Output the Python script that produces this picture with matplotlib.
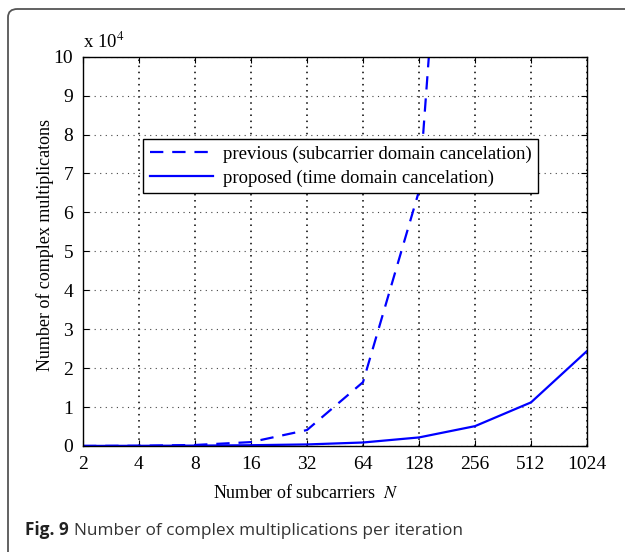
import matplotlib
matplotlib.use("Agg")
import matplotlib.pyplot as plt
from matplotlib.patches import FancyBboxPatch

plt.rcParams["mathtext.fontset"] = "stix"

# Data (values in units of 1e4)
n_labels = ["2", "4", "8", "16", "32", "64", "128", "256", "512", "1024"]
previous = [0.0016, 0.0064, 0.026, 0.10, 0.41, 1.64, 6.55, 26.2]
proposed = [0.002, 0.005, 0.01, 0.02, 0.04, 0.09, 0.22, 0.51, 1.12, 2.44]
y_ticks = [0, 1, 2, 3, 4, 5, 6, 7, 8, 9, 10]

W, H = 625, 552
fig = plt.figure(figsize=(W / 100, H / 100), dpi=100)

serif = ["Liberation Serif", "DejaVu Serif"]

# outer rounded frame (cropped on right/bottom)
frame = FancyBboxPatch((8 / W, -0.2), 1.3, (H - 9) / H + 0.2,
                       boxstyle="round,pad=0,rounding_size=0.015",
                       transform=fig.transFigure, fill=False,
                       edgecolor="#555555", linewidth=1.3, clip_on=False)
fig.patches.append(frame)

AX_L, AX_R, AX_T, AX_B = 83, 587, 56.7, 446
ax = fig.add_axes([AX_L / W, 1 - AX_B / H, (AX_R - AX_L) / W, (AX_B - AX_T) / H])
x = list(range(len(n_labels)))

ax.plot(x[:len(previous)], previous, color="#0000ff", lw=1.6,
        dashes=(6, 4), label="previous (subcarrier domain cancelation)")
ax.plot(x, proposed, color="#0000ff", lw=1.6,
        label="proposed (time domain cancelation)")

ax.set_xlim(0, len(n_labels) - 1)
ax.set_ylim(0, 10)
ax.set_xticks(x)
ax.set_xticklabels(n_labels, fontfamily=serif, fontsize=14)
ax.set_yticks(y_ticks)
ax.set_yticklabels([str(v) for v in y_ticks], fontfamily=serif, fontsize=14)
ax.tick_params(direction="in", top=True, right=True, length=4, width=0.8,
               pad=7, colors="black")
for s in ax.spines.values():
    s.set_linewidth(1.0)
    s.set_color("black")

ax.xaxis.grid(True, linestyle=(0, (1, 3)), color="black", lw=1.1)
ax.yaxis.grid(True, linestyle=(0, (1, 4)), color="#444444", lw=0.8)
ax.set_axisbelow(True)

aw, ah = AX_R - AX_L, AX_B - AX_T
ax.set_xlabel("Number of subcarriers  $N$", fontfamily=serif, fontsize=13)
ax.xaxis.set_label_coords((306 - AX_L) / aw, (AX_B - 493) / ah)
ax.xaxis.label.set_va("center")
ax.set_ylabel("Number of complex multiplicatons", fontfamily=serif, fontsize=13)
ax.yaxis.set_label_coords((45 - AX_L) / aw, (AX_B - 245) / ah)
ax.yaxis.label.set_va("center")

ax.text(0, 1.012, r"x 10$^4$", transform=ax.transAxes, fontfamily=serif,
        fontsize=13.5, ha="left", va="bottom")

leg = ax.legend(loc="upper left", bbox_to_anchor=((143 - AX_L) / aw, (AX_B - 139) / ah),
                prop={"family": serif, "size": 13.5}, frameon=True, fancybox=False,
                edgecolor="black", framealpha=1, handlelength=3.4,
                borderpad=0.35, labelspacing=0.35, handletextpad=0.5,
                borderaxespad=0)
leg.get_frame().set_linewidth(1.0)

# caption
cap_y = 1 - 535 / H
t1 = fig.text(25 / W, cap_y, "Fig. 9", fontfamily=["Open Sans", "DejaVu Sans"],
              fontweight="bold", fontsize=12.4, color="#222222", va="baseline")
fig.canvas.draw()
bb = t1.get_window_extent()
fig.text((bb.x1 + 5) / W, cap_y, "Number of complex multiplications per iteration",
         fontfamily=["Open Sans", "DejaVu Sans"], fontsize=12.4, color="#333333",
         va="baseline")

fig.savefig("out.png", dpi=100)
